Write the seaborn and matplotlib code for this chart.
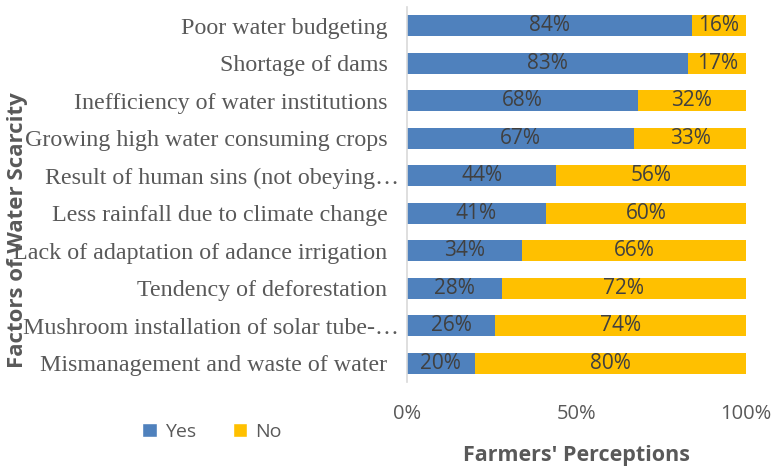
import matplotlib
matplotlib.use("Agg")
import matplotlib.pyplot as plt
import matplotlib.transforms as mtransforms
import seaborn as sns
import pandas as pd
from matplotlib.patches import Patch

factors = [
    "Poor water budgeting",
    "Shortage of dams",
    "Inefficiency of water institutions",
    "Growing high water consuming crops",
    "Result of human sins (not obeying\u2026",
    "Less rainfall due to climate change",
    "Lack of adaptation of adance irrigation",
    "Tendency of deforestation",
    "Mushroom installation of solar tube-\u2026",
    "Mismanagement and waste of water",
]
yes_pct = [84, 83, 68, 67, 44, 41, 34, 28, 26, 20]
no_pct = [16, 17, 32, 33, 56, 60, 66, 72, 74, 80]
x_ticks = [0, 50, 100]
x_tick_labels = ["0%", "50%", "100%"]

BLUE = "#4F81BD"
GOLD = "#FFC000"
TEXT = "#595959"
VAL = "#404040"

df = pd.DataFrame({"factor": factors, "yes": yes_pct, "no": no_pct})
df["total"] = df["yes"] + df["no"]

sns.set_theme(style="white")
plt.rcParams["font.family"] = ["DejaVu Sans"]

fig = plt.figure(figsize=(7.75, 4.67), dpi=100)
ax = fig.add_axes([407 / 775, 1 - 382 / 467, (746 - 407) / 775, (382 - 7) / 467])

# stacked bars: draw the full (yes + no) bar in gold, then the yes part in blue on top
sns.barplot(data=df, x="total", y="factor", orient="h", color=GOLD,
            width=0.56, ax=ax, saturation=1, linewidth=0)
sns.barplot(data=df, x="yes", y="factor", orient="h", color=BLUE,
            width=0.56, ax=ax, saturation=1, linewidth=0)

ax.set_xlim(0, 100)
ax.set_xticks(x_ticks)
ax.set_xticklabels(x_tick_labels, fontfamily="Open Sans", fontsize=14.5, color=TEXT)
ax.tick_params(axis="x", length=0, pad=16)
ax.tick_params(axis="y", length=0, pad=14)
shift = mtransforms.ScaledTranslation(11 / 100, 0, fig.dpi_scale_trans)
for lbl in ax.get_yticklabels():
    lbl.set_fontfamily("Liberation Serif")
    lbl.set_fontsize(17.3)
    lbl.set_color(TEXT)
    # truncated labels run a little further right, past the common edge
    if lbl.get_text().endswith("\u2026"):
        lbl.set_transform(lbl.get_transform() + shift)
ax.set_xlabel("Farmers' Perceptions", fontfamily="Open Sans", fontsize=15.5,
              fontweight="bold", color=TEXT, labelpad=15)
ax.set_ylabel("")

for s in ["top", "right", "bottom"]:
    ax.spines[s].set_visible(False)
ax.spines["left"].set_color("#D9D9D9")
ax.spines["left"].set_linewidth(1.2)

# value labels centred inside each segment
for i, (y_v, n_v) in enumerate(zip(yes_pct, no_pct)):
    ax.text(y_v / 2, i, f"{y_v}%", ha="center", va="center",
            fontfamily="Open Sans", fontsize=15, color=VAL)
    ax.text(min(y_v + n_v / 2, (y_v + 100) / 2), i, f"{n_v}%", ha="center",
            va="center", fontfamily="Open Sans", fontsize=15, color=VAL)

fig.text(18 / 775, 1 - 230 / 467, "Factors of Water Scarcity", rotation=90,
         ha="center", va="center", fontfamily="Open Sans", fontsize=16,
         fontweight="bold", color=TEXT)

handles = [Patch(facecolor=BLUE, label="Yes"), Patch(facecolor=GOLD, label="No")]
fig.legend(handles=handles, loc="center", bbox_to_anchor=(212 / 775, 1 - 432 / 467),
           ncol=2, frameon=False, handlelength=0.75, handleheight=0.75,
           handletextpad=0.4, columnspacing=1.9,
           prop={"family": "Open Sans", "size": 14})
for t in fig.legends[0].get_texts():
    t.set_color(TEXT)

fig.savefig("out.png", dpi=100)
